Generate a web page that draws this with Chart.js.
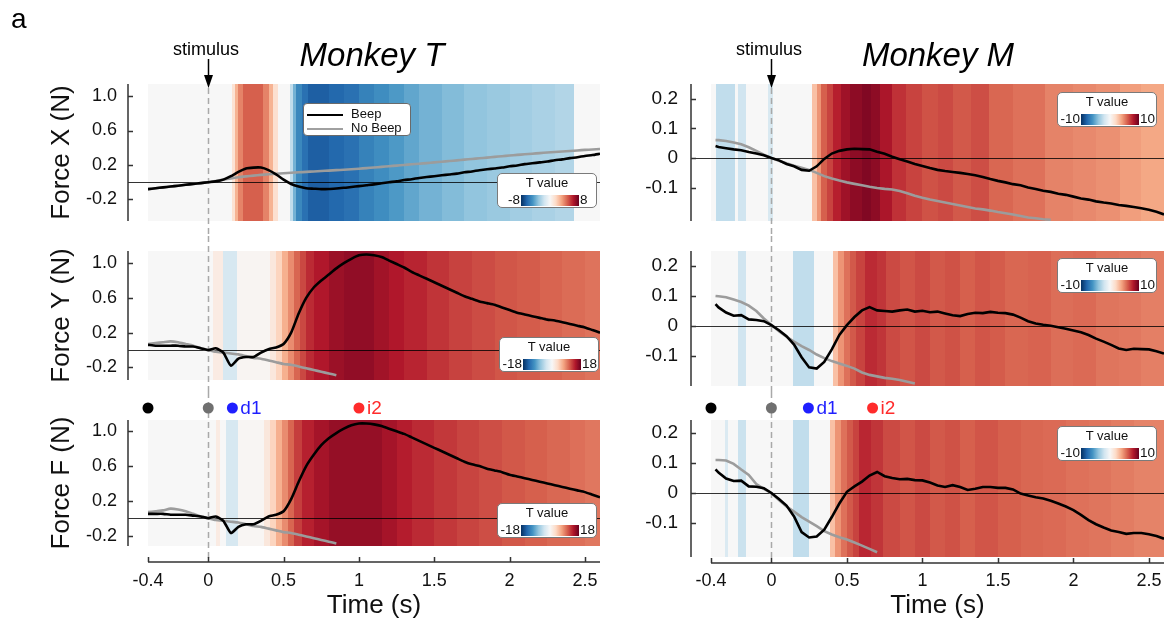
<!DOCTYPE html>
<html>
<head>
<meta charset="utf-8">
<script src="https://cdn.jsdelivr.net/npm/chart.js@4.4.1/dist/chart.umd.min.js"></script>
<style>
body { margin: 0; background: #fff; font-family: "Liberation Sans", Arial, Helvetica, sans-serif; }
#fig { position: relative; width: 1169px; height: 628px; overflow: hidden; background: #fff; }
#fig canvas { position: absolute; }
.txt { position: absolute; white-space: nowrap; color: #000; z-index: 5; }
.ttl { font-size: 33px; font-style: italic; text-align: center; width: 220px; }
.stim { font-size: 18px; text-align: center; width: 100px; }
.cbar { position: absolute; width: 100px; height: 35px; background: #fff; border: 1px solid #7a7a7a;
        border-radius: 5px; box-sizing: border-box; z-index: 5; color: #111; }
.cbar .cbt { position: absolute; left: 0; right: 0; top: 1px; text-align: center; font-size: 13px; }
.cbar .cbg { position: absolute; left: 23px; top: 21px; width: 58px; height: 11px; }
.cbar .cbl { position: absolute; right: 76px; top: 18px; font-size: 13.5px; }
.cbar .cbr { position: absolute; left: 82px; top: 18px; font-size: 13.5px; }
.lgd { position: absolute; left: 303px; top: 103px; width: 108px; height: 33px; background: #fff;
       border: 1px solid #6a6a6a; border-radius: 4px; box-sizing: border-box; z-index: 5; font-size: 13px; color: #111; }
.lgd .row { position: absolute; left: 3px; height: 14px; line-height: 14px; }
.lgd .sw { display: inline-block; width: 36px; height: 0; vertical-align: middle; margin-right: 8px; }
</style>
</head>
<body>
<div id="fig">
  <div class="txt" style="left:11px; top:3px; font-size:28px;">a</div>
  <div class="txt ttl" style="left:262px; top:36px;">Monkey T</div>
  <div class="txt ttl" style="left:828px; top:36px;">Monkey M</div>
  <div class="txt stim" style="left:156px; top:39px;">stimulus</div>
  <div class="txt stim" style="left:719px; top:39px;">stimulus</div>
  <div class="lgd">
    <div class="row" style="top:3px;"><span class="sw" style="border-top:2px solid #000;"></span>Beep</div>
    <div class="row" style="top:17px;"><span class="sw" style="border-top:2px solid #a0a0a0;"></span>No Beep</div>
  </div>
</div>
<script>
// ===== DATA =====

// time axis (s)
const timeT = [-0.4, -0.35, -0.3, -0.25, -0.2, -0.15, -0.1, -0.05, 0, 0.05, 0.1, 0.15, 0.2, 0.25, 0.3, 0.35, 0.4, 0.45, 0.5, 0.55,
  0.6, 0.65, 0.7, 0.75, 0.8, 0.85, 0.9, 0.95, 1, 1.05, 1.1, 1.15, 1.2, 1.25, 1.3, 1.35, 1.4, 1.45, 1.5, 1.55,
  1.6, 1.65, 1.7, 1.75, 1.8, 1.85, 1.9, 1.95, 2, 2.05, 2.1, 2.15, 2.2, 2.25, 2.3, 2.35, 2.4, 2.45, 2.5, 2.55, 2.6];
const timeM = [-0.37, -0.35, -0.3, -0.25, -0.2, -0.15, -0.1, -0.05, 0, 0.05, 0.1, 0.15, 0.2, 0.25, 0.3, 0.35, 0.4, 0.45, 0.5, 0.55,
  0.6, 0.65, 0.7, 0.75, 0.8, 0.85, 0.9, 0.95, 1, 1.05, 1.1, 1.15, 1.2, 1.25, 1.3, 1.35, 1.4, 1.45, 1.5, 1.55,
  1.6, 1.65, 1.7, 1.75, 1.8, 1.85, 1.9, 1.95, 2, 2.05, 2.1, 2.15, 2.2, 2.25, 2.3, 2.35, 2.4, 2.45, 2.5, 2.55, 2.6];

const xTicks = [-0.4, 0, 0.5, 1, 1.5, 2, 2.5];
const yTicksT = [-0.2, 0.2, 0.6, 1.0];
const yTicksM = [-0.1, 0, 0.1, 0.2];

// Monkey T - force traces (N)
const beepXT = [-0.08, -0.07, -0.06, -0.05, -0.04, -0.03, -0.02, -0.01, 0.0, 0.01, 0.03, 0.07, 0.12, 0.16, 0.17, 0.17, 0.14, 0.09, 0.03, -0.02,
  -0.05, -0.07, -0.075, -0.08, -0.078, -0.072, -0.065, -0.055, -0.045, -0.035, -0.025, -0.012, 0.0, 0.01, 0.025, 0.035, 0.05, 0.06, 0.07, 0.08,
  0.09, 0.1, 0.115, 0.125, 0.14, 0.15, 0.16, 0.17, 0.185, 0.195, 0.21, 0.22, 0.23, 0.24, 0.255, 0.265, 0.28, 0.29, 0.305, 0.315, 0.33];
const noBeepXT = [-0.08, -0.07, -0.06, -0.05, -0.04, -0.03, -0.02, -0.01, 0.0, 0.015, 0.03, 0.045, 0.058, 0.068, 0.077, 0.085, 0.092, 0.098, 0.104, 0.11,
  0.115, 0.12, 0.125, 0.13, 0.135, 0.14, 0.145, 0.15, 0.157, 0.164, 0.171, 0.178, 0.186, 0.193, 0.2, 0.208, 0.215, 0.222, 0.23, 0.238,
  0.246, 0.254, 0.262, 0.27, 0.278, 0.286, 0.294, 0.302, 0.31, 0.317, 0.324, 0.331, 0.338, 0.345, 0.351, 0.357, 0.363, 0.369, 0.375, 0.38, 0.385];
const beepYT = [0.06, 0.05, 0.05, 0.05, 0.05, 0.04, 0.04, 0.02, 0.0, 0.02, -0.03, -0.18, -0.1, -0.08, -0.08, -0.03, 0.01, 0.03, 0.07, 0.2,
  0.42, 0.6, 0.72, 0.8, 0.87, 0.94, 1.0, 1.05, 1.09, 1.1, 1.09, 1.07, 1.03, 0.99, 0.95, 0.9, 0.86, 0.82, 0.78, 0.74,
  0.7, 0.66, 0.62, 0.59, 0.56, 0.54, 0.52, 0.49, 0.46, 0.43, 0.41, 0.39, 0.37, 0.35, 0.34, 0.32, 0.3, 0.28, 0.26, 0.23, 0.2];
const noBeepYT = [0.07, 0.08, 0.09, 0.1, 0.09, 0.07, 0.05, 0.02, 0.0, -0.02, -0.03, -0.04, -0.05, -0.07, -0.09, -0.1, -0.12, -0.14, -0.16, -0.17,
  -0.19, -0.21, -0.23, -0.25, -0.27, -0.29];
const beepFT = [0.05, 0.05, 0.05, 0.04, 0.04, 0.04, 0.03, 0.02, 0.0, 0.02, -0.03, -0.17, -0.1, -0.07, -0.07, -0.03, 0.02, 0.04, 0.08, 0.22,
  0.42, 0.6, 0.73, 0.84, 0.92, 0.98, 1.03, 1.07, 1.09, 1.09, 1.08, 1.06, 1.03, 1.0, 0.97, 0.93, 0.89, 0.85, 0.81, 0.77,
  0.73, 0.69, 0.65, 0.62, 0.6, 0.57, 0.55, 0.53, 0.5, 0.48, 0.46, 0.44, 0.42, 0.4, 0.38, 0.36, 0.34, 0.32, 0.3, 0.27, 0.24];
const noBeepFT = [0.07, 0.08, 0.09, 0.11, 0.1, 0.08, 0.05, 0.02, 0.0, -0.02, -0.03, -0.04, -0.05, -0.07, -0.09, -0.1, -0.12, -0.14, -0.16, -0.17,
  -0.19, -0.21, -0.23, -0.25, -0.27, -0.29];

// Monkey M - force traces (N)
const beepXM = [0.04, 0.037, 0.033, 0.029, 0.026, 0.02, 0.015, 0.009, 0.0, -0.008, -0.02, -0.028, -0.04, -0.043, -0.028, -0.003, 0.015, 0.024, 0.029, 0.031,
  0.03, 0.029, 0.021, 0.014, 0.004, -0.004, -0.012, -0.02, -0.027, -0.034, -0.04, -0.044, -0.047, -0.05, -0.054, -0.058, -0.064, -0.071, -0.077, -0.082,
  -0.088, -0.092, -0.099, -0.104, -0.11, -0.114, -0.12, -0.124, -0.13, -0.136, -0.14, -0.146, -0.15, -0.153, -0.158, -0.161, -0.165, -0.169, -0.174, -0.181, -0.19];
const noBeepXM = [0.06, 0.06, 0.057, 0.052, 0.046, 0.036, 0.024, 0.011, 0.0, -0.009, -0.018, -0.026, -0.033, -0.04, -0.05, -0.061, -0.069, -0.076, -0.082, -0.087,
  -0.092, -0.097, -0.101, -0.104, -0.106, -0.111, -0.119, -0.127, -0.134, -0.14, -0.145, -0.15, -0.155, -0.16, -0.165, -0.17, -0.173, -0.177, -0.182, -0.186,
  -0.19, -0.195, -0.2, -0.203, -0.206, -0.208];
const beepYM = [0.073, 0.062, 0.045, 0.034, 0.036, 0.022, 0.02, 0.016, 0.003, -0.014, -0.034, -0.062, -0.104, -0.138, -0.142, -0.12, -0.078, -0.03, 0.003, 0.03,
  0.052, 0.063, 0.052, 0.05, 0.048, 0.052, 0.055, 0.048, 0.051, 0.046, 0.048, 0.042, 0.036, 0.033, 0.04, 0.044, 0.043, 0.047, 0.044, 0.043,
  0.038, 0.028, 0.016, 0.008, 0.004, 0.001, -0.004, -0.009, -0.015, -0.021, -0.03, -0.042, -0.052, -0.063, -0.075, -0.08, -0.076, -0.077, -0.078, -0.084, -0.092];
const noBeepYM = [0.1, 0.099, 0.096, 0.088, 0.08, 0.068, 0.05, 0.025, 0.003, -0.017, -0.036, -0.052, -0.067, -0.08, -0.095, -0.107, -0.117, -0.125, -0.133, -0.142,
  -0.155, -0.163, -0.168, -0.173, -0.176, -0.18, -0.186, -0.192];
const beepFM = [0.079, 0.068, 0.048, 0.04, 0.041, 0.022, 0.021, 0.016, 0.0, -0.02, -0.042, -0.078, -0.13, -0.148, -0.145, -0.122, -0.08, -0.035, 0.004, 0.022,
  0.038, 0.058, 0.07, 0.056, 0.05, 0.046, 0.047, 0.043, 0.042, 0.035, 0.025, 0.02, 0.026, 0.02, 0.01, 0.014, 0.02, 0.02, 0.017, 0.017,
  0.012, -0.002, -0.008, -0.014, -0.018, -0.026, -0.035, -0.045, -0.057, -0.073, -0.09, -0.104, -0.115, -0.125, -0.13, -0.136, -0.133, -0.133, -0.137, -0.143, -0.152];
const noBeepFM = [0.11, 0.11, 0.108, 0.097, 0.078, 0.06, 0.03, 0.014, 0.0, -0.023, -0.045, -0.062, -0.08, -0.095, -0.11, -0.127, -0.138, -0.147, -0.155, -0.165,
  -0.175, -0.186, -0.197];

// T-value stripes: start time (s) of each stripe and its T value
const stripeStartXT = [-0.4, 0.16, 0.18, 0.2, 0.23, 0.36, 0.4, 0.43, 0.46, 0.54, 0.56, 0.58, 0.62, 0.66, 0.8, 0.9, 1.0, 1.1, 1.2, 1.3, 1.4, 1.55, 1.7, 1.85, 2.0, 2.15, 2.3, 2.43];
const stripeTXT = [0, 1.2, 2.8, 4.0, 4.8, 4.0, 2.8, 1.3, 0, -2.0, -3.8, -5.2, -6.0, -6.6, -6.3, -6.0, -5.4, -5.0, -4.6, -4.2, -3.8, -3.5, -3.2, -3.0, -2.8, -2.6, -2.4, 0];
const stripeStartYT = [-0.4, 0.03, 0.1, 0.19, 0.41, 0.45, 0.49, 0.53, 0.57, 0.61, 0.65, 0.7, 0.8, 0.9, 1.1, 1.2, 1.3, 1.45, 1.6, 1.75, 1.9, 2.05, 2.2, 2.35, 2.5];
const stripeTYT = [0, 1.5, -3.0, 0.4, 2.0, 4.0, 6.5, 8.5, 10.5, 12.0, 13.5, 14.5, 15.5, 16.0, 15.2, 14.5, 13.8, 13.0, 12.3, 11.8, 11.3, 11.0, 10.6, 10.2, 9.8];
const stripeStartFT = [-0.4, 0.05, 0.08, 0.12, 0.2, 0.37, 0.41, 0.45, 0.49, 0.53, 0.57, 0.62, 0.7, 0.8, 1.15, 1.25, 1.35, 1.5, 1.65, 1.8, 1.95, 2.1, 2.25, 2.4, 2.5];
const stripeTFT = [0, 1.5, 0, -3.0, 0.3, 2.0, 4.0, 6.5, 8.5, 10.5, 12.5, 14.0, 15.0, 15.8, 15.0, 14.2, 13.5, 12.8, 12.2, 11.7, 11.2, 10.8, 10.4, 10.0, 9.6];
const stripeStartXM = [-0.4, -0.37, -0.24, -0.22, -0.17, -0.02, 0.01, 0.27, 0.3, 0.33, 0.37, 0.41, 0.46, 0.52, 0.6, 0.66, 0.72, 0.8, 0.89, 1.0, 1.1, 1.2, 1.32, 1.44, 1.6, 1.81, 2.0, 2.15, 2.31, 2.45];
const stripeTXM = [0, -2.5, 0, -2.0, 0, -1.6, 0, 3.0, 4.5, 6.0, 6.8, 7.8, 8.5, 9.0, 9.3, 9.0, 8.2, 7.3, 6.8, 6.4, 6.6, 6.2, 6.5, 5.8, 5.5, 5.0, 4.8, 4.6, 4.2, 3.9];
const stripeStartYM = [-0.4, -0.22, -0.17, 0.14, 0.28, 0.41, 0.44, 0.48, 0.52, 0.56, 0.62, 0.7, 0.76, 0.85, 0.95, 1.05, 1.15, 1.25, 1.35, 1.45, 1.55, 1.7, 1.85, 2.0, 2.15, 2.3, 2.45];
const stripeTYM = [0, -2.0, 0, -2.5, 0, 3.0, 4.5, 5.5, 6.2, 6.8, 7.5, 7.2, 6.6, 6.3, 6.6, 6.2, 6.4, 6.0, 6.3, 6.1, 5.8, 5.9, 5.6, 5.7, 5.4, 5.3, 5.1];
const stripeStartFM = [-0.4, -0.31, -0.29, -0.22, -0.17, 0.14, 0.25, 0.39, 0.42, 0.46, 0.5, 0.54, 0.58, 0.66, 0.74, 0.85, 0.95, 1.05, 1.15, 1.25, 1.35, 1.5, 1.65, 1.8, 1.95, 2.1, 2.25, 2.4];
const stripeTFM = [0, -1.5, 0, -2.2, 0, -2.5, 0, 3.0, 4.5, 5.5, 6.2, 6.8, 7.6, 7.2, 6.6, 6.3, 6.6, 6.2, 6.4, 6.0, 6.3, 6.0, 5.8, 5.7, 5.5, 5.4, 5.2, 5.0];

// event markers above the bottom row
const eventTimesT = [-0.4, 0, 0.16, 1.0];
const eventTimesM = [-0.4, 0, 0.245, 0.67];
const eventLabels = ['', '', 'd1', 'i2'];
const eventColors = ['#000000', '#707070', '#1f1fff', '#ff2b2b'];

// RdBu colour map (blue = negative T, red = positive T)
const rdbu = ['#053061', '#2166ac', '#4393c3', '#92c5de', '#d1e5f0', '#f7f7f7', '#fddbc7', '#f4a582', '#d6604d', '#b2182b', '#67001f'];

// ===== LAYOUT =====
const cols = [
    { x: 0, w: 604, left: 148, right: 600, tickPad: 31, tickSize: 18, tension: 0.2 },
    { x: 604, w: 565, left: 711, right: 1164, tickPad: 33, tickSize: 19, tension: 0 }
];
const rows = [
    { y: 0, h: 236 },
    { y: 236, h: 156 },
    { y: 392, h: 236 }
];

const panels = [
    { key: 'XT', col: 0, row: 0, time: timeT, beep: beepXT, noBeep: noBeepXT, starts: stripeStartXT, tvals: stripeTXT, tmax: 8,
      ymin: -0.45, ymax: 1.14, yTicks: yTicksT, yTitle: 'Force X (N)', top: 84, bottom: 221, cbar: [497, 173] },
    { key: 'YT', col: 0, row: 1, time: timeT, beep: beepYT, noBeep: noBeepYT, starts: stripeStartYT, tvals: stripeTYT, tmax: 18,
      ymin: -0.345, ymax: 1.14, yTicks: yTicksT, yTitle: 'Force Y (N)', top: 251, bottom: 380, cbar: [499, 337] },
    { key: 'FT', col: 0, row: 2, time: timeT, beep: beepFT, noBeep: noBeepFT, starts: stripeStartFT, tvals: stripeTFT, tmax: 18,
      ymin: -0.32, ymax: 1.13, yTicks: yTicksT, yTitle: 'Force F (N)', top: 420, bottom: 546, cbar: [497, 503], events: eventTimesT },
    { key: 'XM', col: 1, row: 0, time: timeM, beep: beepXM, noBeep: noBeepXM, starts: stripeStartXM, tvals: stripeTXM, tmax: 10,
      ymin: -0.212, ymax: 0.249, yTicks: yTicksM, yTitle: '', top: 84, bottom: 221, cbar: [1057, 92] },
    { key: 'YM', col: 1, row: 1, time: timeM, beep: beepYM, noBeep: noBeepYM, starts: stripeStartYM, tvals: stripeTYM, tmax: 10,
      ymin: -0.2, ymax: 0.25, yTicks: yTicksM, yTitle: '', top: 251, bottom: 386, cbar: [1057, 258] },
    { key: 'FM', col: 1, row: 2, time: timeM, beep: beepFM, noBeep: noBeepFM, starts: stripeStartFM, tvals: stripeTFM, tmax: 10,
      ymin: -0.213, ymax: 0.243, yTicks: yTicksM, yTitle: '', top: 420, bottom: 557, cbar: [1057, 426], events: eventTimesM }
];

const FONT = '"Liberation Sans", Arial, Helvetica, sans-serif';
Chart.defaults.font.family = FONT;
Chart.defaults.color = '#111';

const fig = document.getElementById('fig');

function hexToRgb(h) {
    return [parseInt(h.slice(1, 3), 16), parseInt(h.slice(3, 5), 16), parseInt(h.slice(5, 7), 16)];
}

function tColor(t, tmax) {
    const f = Math.max(-1, Math.min(1, t / tmax));
    const pos = (f + 1) * 5;
    const i = Math.min(9, Math.floor(pos));
    const w = pos - i;
    const a = hexToRgb(rdbu[i]), b = hexToRgb(rdbu[i + 1]);
    const c = a.map((v, k) => Math.round(v + (b[k] - v) * w));
    return `rgb(${c[0]},${c[1]},${c[2]})`;
}

// Stripes, zero line, stimulus line, axes and markers for one panel
function decorPlugin(p) {
    const row = rows[p.row];
    return {
        id: 'decor' + p.key,
        beforeDatasetsDraw(chart) {
            const { ctx, chartArea: a, scales: { x: xs, y: ys } } = chart;
            ctx.save();
            for (let i = 0; i < p.starts.length; i++) {
                const x0 = Math.round(xs.getPixelForValue(p.starts[i]));
                const end = i + 1 < p.starts.length ? p.starts[i + 1] : xs.max;
                const x1 = Math.round(xs.getPixelForValue(end));
                ctx.fillStyle = tColor(p.tvals[i], p.tmax);
                ctx.fillRect(x0, a.top, x1 - x0, a.bottom - a.top);
            }
            // zero line
            const axisX = a.left - 20;
            const y0 = Math.round(ys.getPixelForValue(0)) + 0.5;
            ctx.strokeStyle = 'rgba(0,0,0,0.8)';
            ctx.lineWidth = 1;
            ctx.beginPath();
            ctx.moveTo(axisX, y0);
            ctx.lineTo(a.right, y0);
            ctx.stroke();
            // dashed stimulus line
            const sx = Math.round(xs.getPixelForValue(0)) + 0.5;
            const top = p.row === 0 ? 88 - row.y : 0;
            const bottom = p.row === 2 ? a.bottom + (p.col === 0 ? 16 : 6) : row.h;
            ctx.strokeStyle = '#a9a9a9';
            ctx.lineWidth = 1.5;
            ctx.setLineDash([6, 4]);
            ctx.beginPath();
            ctx.moveTo(sx, top);
            ctx.lineTo(sx, bottom);
            ctx.stroke();
            ctx.restore();
        },
        afterDatasetsDraw(chart) {
            const { ctx, chartArea: a, scales: { x: xs, y: ys } } = chart;
            ctx.save();
            ctx.strokeStyle = '#333';
            ctx.lineWidth = 1.5;
            // y axis, offset from the plot
            const axisX = a.left - 20;
            ctx.beginPath();
            ctx.moveTo(axisX, a.top);
            ctx.lineTo(axisX, a.bottom);
            p.yTicks.forEach(v => {
                const y = Math.round(ys.getPixelForValue(v)) + 0.5;
                ctx.moveTo(axisX, y);
                ctx.lineTo(axisX + 5, y);
            });
            ctx.stroke();
            if (p.row === 2) {
                // x axis, offset below the plot
                const axisY = a.bottom + (p.col === 0 ? 16 : 6);
                ctx.beginPath();
                ctx.moveTo(xs.getPixelForValue(-0.4), axisY);
                ctx.lineTo(xs.getPixelForValue(xs.max), axisY);
                xTicks.forEach(v => {
                    const x = Math.round(xs.getPixelForValue(v)) + 0.5;
                    ctx.moveTo(x, axisY);
                    ctx.lineTo(x, axisY - 5);
                });
                ctx.stroke();
                // event dots
                const dy = a.top - 12;
                p.events.forEach((t, i) => {
                    const cx = xs.getPixelForValue(t);
                    ctx.fillStyle = eventColors[i];
                    ctx.beginPath();
                    ctx.arc(cx, dy, 5.5, 0, Math.PI * 2);
                    ctx.fill();
                    if (eventLabels[i]) {
                        ctx.font = '19px ' + FONT;
                        ctx.textBaseline = 'middle';
                        ctx.textAlign = 'left';
                        ctx.fillText(eventLabels[i], cx + 8, dy + 1);
                    }
                });
            }
            if (p.row === 0) {
                // stimulus arrow
                const sx = Math.round(xs.getPixelForValue(0)) + 0.5;
                ctx.strokeStyle = '#000';
                ctx.lineWidth = 1.5;
                ctx.beginPath();
                ctx.moveTo(sx, 59);
                ctx.lineTo(sx, 77);
                ctx.stroke();
                ctx.fillStyle = '#000';
                ctx.beginPath();
                ctx.moveTo(sx - 4.5, 75);
                ctx.lineTo(sx + 4.5, 75);
                ctx.lineTo(sx, 88);
                ctx.closePath();
                ctx.fill();
            }
            ctx.restore();
        }
    };
}

function makePanel(p) {
    const col = cols[p.col], row = rows[p.row];
    const isBottom = p.row === 2;
    const canvas = document.createElement('canvas');
    canvas.width = col.w;
    canvas.height = row.h;
    canvas.style.left = col.x + 'px';
    canvas.style.top = row.y + 'px';
    fig.appendChild(canvas);

    new Chart(canvas, {
        type: 'line',
        data: {
            datasets: [
                {
                    label: 'Beep',
                    data: p.beep.map((v, i) => ({ x: p.time[i], y: v })),
                    borderColor: '#000',
                    borderWidth: 2.6,
                    pointRadius: 0,
                    tension: col.tension
                },
                {
                    label: 'No Beep',
                    data: p.noBeep.map((v, i) => ({ x: p.time[i], y: v })),
                    borderColor: '#9c9c9c',
                    borderWidth: 2.6,
                    pointRadius: 0,
                    tension: col.tension
                }
            ]
        },
        options: {
            responsive: false,
            animation: false,
            devicePixelRatio: 1,
            layout: {
                padding: {
                    left: 0,
                    right: col.x + col.w - col.right,
                    top: p.top - row.y,
                    bottom: isBottom ? 0 : row.y + row.h - p.bottom
                }
            },
            plugins: { legend: { display: false }, tooltip: { enabled: false } },
            scales: {
                x: {
                    type: 'linear',
                    min: -0.4,
                    max: 2.6,
                    display: isBottom,
                    grid: { display: false, drawTicks: false },
                    border: { display: false },
                    afterBuildTicks: s => { s.ticks = xTicks.map(v => ({ value: v })); },
                    afterFit: s => {
                        s.height = isBottom ? row.y + row.h - p.bottom : 0;
                        s.paddingLeft = 0;
                        s.paddingRight = 0;
                    },
                    ticks: {
                        autoSkip: false,
                        maxRotation: 0,
                        padding: 570 - p.bottom,
                        font: { size: 18 },
                        color: '#111',
                        callback: v => String(v)
                    },
                    title: { display: true, text: 'Time (s)', font: { size: 26 }, color: '#111', padding: { top: 0, bottom: 7 } }
                },
                y: {
                    type: 'linear',
                    min: p.ymin,
                    max: p.ymax,
                    grid: { display: false, drawTicks: false },
                    border: { display: false },
                    afterBuildTicks: s => { s.ticks = p.yTicks.map(v => ({ value: v })); },
                    afterFit: s => {
                        s.width = col.left - col.x;
                        s.paddingTop = 0;
                        s.paddingBottom = 0;
                    },
                    ticks: {
                        autoSkip: false,
                        padding: col.tickPad,
                        font: { size: col.tickSize },
                        color: '#111',
                        callback: v => (p.col === 0 ? v.toFixed(1) : (v === 0 ? '0' : v.toFixed(1)))
                    },
                    title: { display: p.yTitle !== '', text: p.yTitle, font: { size: 26 }, color: '#111', padding: { top: 46, bottom: 0 } }
                }
            }
        },
        plugins: [decorPlugin(p)]
    });

    // T value colour bar legend
    const box = document.createElement('div');
    box.className = 'cbar';
    box.style.left = p.cbar[0] + 'px';
    box.style.top = p.cbar[1] + 'px';
    box.innerHTML = `<div class="cbt">T value</div><div class="cbl">-${p.tmax}</div>` +
        `<div class="cbg" style="background:linear-gradient(to right, ${rdbu.join(',')})"></div><div class="cbr">${p.tmax}</div>`;
    fig.appendChild(box);
}

panels.forEach(makePanel);
</script>
</body>
</html>
